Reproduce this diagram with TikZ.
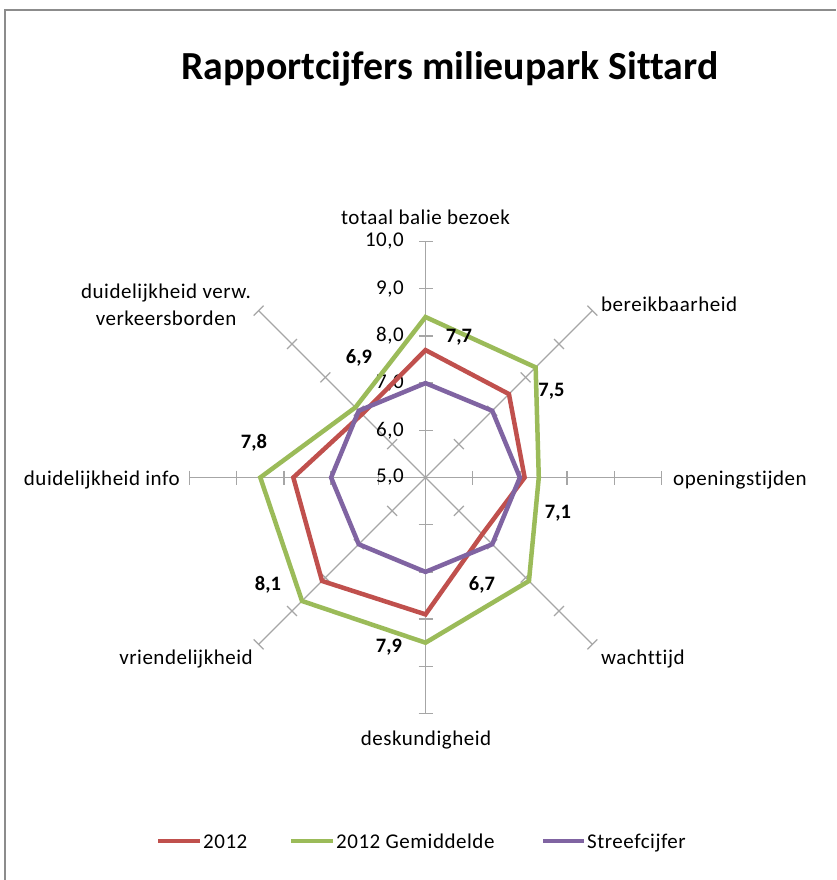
\documentclass[tikz,border=0pt]{standalone}
\usepackage{fontspec}
\setmainfont{Carlito}[Ligatures=NoCommon]
\newfontfamily\spacedfont[LetterSpace=2.5,Ligatures=NoCommon]{Carlito}
\usetikzlibrary{calc}
\definecolor{serred}{HTML}{C0504D}
\definecolor{sergreen}{HTML}{9BBB59}
\definecolor{serpurple}{HTML}{8064A2}
\definecolor{axisgray}{HTML}{A6A6A6}
\definecolor{framegray}{HTML}{8C8C8C}
\begin{document}
\begin{tikzpicture}[x=1pt,y=1pt,
  axisline/.style={draw=axisgray, line width=1.3pt},
  serline/.style={line width=4.5pt, line join=miter},
  legline/.style={line width=4.5pt},
  lbl/.style={font=\fontsize{21}{26.5}\spacedfont, inner sep=0pt},
  val/.style={font=\fontsize{20.5}{20.5}\selectfont\bfseries, inner sep=0pt},
  tick/.style={font=\fontsize{21}{21}\spacedfont, inner sep=0pt, anchor=east},
]
\useasboundingbox (0,0) rectangle (836,-880);
\fill[white] (0,0) rectangle (836,-880);
\draw[framegray, line width=1.5pt] (836,-10) -- (5,-10) -- (5,-880);

\node[font=\fontsize{39.8}{39.8}\selectfont\bfseries, inner sep=0pt] (title) at (450,-69) {Rapportcijfers milieupark Sittard};

\begin{scope}[shift={(425.5,-477.5)}]
  \foreach \i in {0,...,7}{
    \pgfmathsetmacro\a{90-45*\i}
    \begin{scope}[rotate=\a]
      \draw[axisline] (0,0) -- (236,0);
      \foreach \k in {1,...,5}{
        \draw[axisline] (47.2*\k,-7) -- (47.2*\k,7);
      }
    \end{scope}
  }
\end{scope}

% scale labels
\node[tick] (s5) at (404,-477.5) {5,0};
\node[tick] (s6) at (404,-430.3) {6,0};
\node[tick] (s7) at (404,-383.1) {7,0};
\node[tick] (s8) at (404,-335.9) {8,0};
\node[tick] (s9) at (404,-288.7) {9,0};
\node[tick] (s10) at (404,-241.5) {10,0};

\begin{scope}[shift={(425.5,-477.5)}]
  \foreach \v [count=\i from 0] in {7.7,7.5,7.1,6.7,7.9,8.1,7.8,6.9}{
    \coordinate (r\i) at ({90-45*\i}:{(\v-5)*47.2});
  }
  \foreach \v [count=\i from 0] in {8.4,8.3,7.4,8.1,8.5,8.7,8.5,7.1}{
    \coordinate (g\i) at ({90-45*\i}:{(\v-5)*47.2});
  }
  \foreach \v [count=\i from 0] in {7,7,7,7,7,7,7,7}{
    \coordinate (p\i) at ({90-45*\i}:{(\v-5)*47.2});
  }
  \draw[serline, serred] (r0)--(r1)--(r2)--(r3)--(r4)--(r5)--(r6)--(r7)--cycle;
  \draw[serline, sergreen] (g0)--(g1)--(g2)--(g3)--(g4)--(g5)--(g6)--(g7)--cycle;
  \draw[serline, serpurple] (p0)--(p1)--(p2)--(p3)--(p4)--(p5)--(p6)--(p7)--cycle;
\end{scope}

% data labels
\node[val] (v0) at (459,-337) {7,7};
\node[val] (v1) at (551.5,-391.5) {7,5};
\node[val] (v2) at (558,-513.5) {7,1};
\node[val] (v3) at (482,-585) {6,7};
\node[val] (v4) at (389,-647) {7,9};
\node[val] (v5) at (268,-585) {8,1};
\node[val] (v6) at (254,-443) {7,8};
\node[val] (v7) at (359,-358) {6,9};

% category labels
\node[lbl] (c0) at (425.5,-217) {totaal balie bezoek};
\node[lbl, anchor=west] (c1) at (601,-304) {bereikbaarheid};
\node[lbl, anchor=west] (c2) at (673,-480) {openingstijden};
\node[lbl, anchor=west] (c3) at (601,-659) {wachttijd};
\node[lbl] (c4) at (426,-740) {deskundigheid};
\node[lbl, anchor=east] (c5) at (253,-659) {vriendelijkheid};
\node[lbl, anchor=east] (c6) at (180,-480) {duidelijkheid info};
\node[lbl, align=center] (c7) at (166,-305) {duidelijkheid verw.\\verkeersborden};

% legend
\coordinate (l1a) at (158,-841); \coordinate (l1b) at (200,-841);
\coordinate (l2a) at (291,-841); \coordinate (l2b) at (333,-841);
\coordinate (l3a) at (543,-841); \coordinate (l3b) at (584,-841);
\draw[legline, serred] (l1a) -- (l1b);
\draw[legline, sergreen] (l2a) -- (l2b);
\draw[legline, serpurple] (l3a) -- (l3b);
\node[lbl, anchor=base west] (t1) at (203,-848) {2012};
\node[lbl, anchor=base west] (t2) at (336,-848) {2012 Gemiddelde};
\node[lbl, anchor=base west] (t3) at (587,-848) {Streefcijfer};
\end{tikzpicture}
\end{document}
